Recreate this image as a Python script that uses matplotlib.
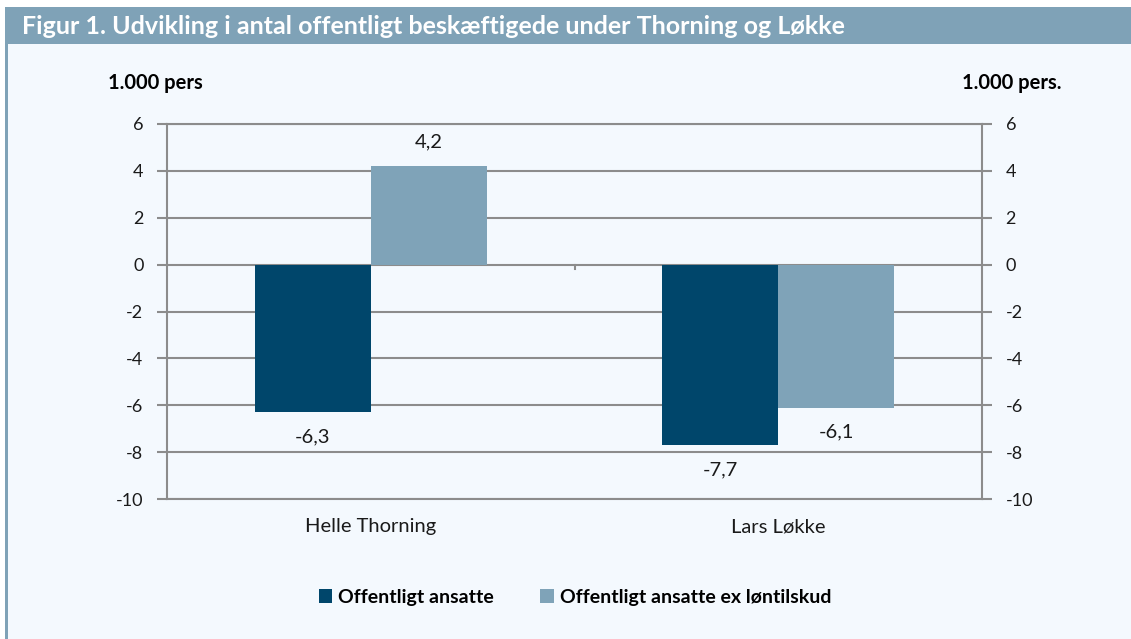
import matplotlib.pyplot as plt
import numpy as np
from matplotlib.patches import Rectangle

plt.rcParams['font.family'] = ['Lato', 'DejaVu Sans']

categories = ['Helle Thorning', 'Lars Løkke']
series_names = ['Offentligt ansatte', 'Offentligt ansatte ex løntilskud']
ansatte = [-6.3, -7.7]
ex_loentilskud = [4.2, -6.1]
yticks = [-10, -8, -6, -4, -2, 0, 2, 4, 6]

dark = '#00466b'
light = '#7fa3b8'
bg = '#f4f9fe'
grey = '#8c8c8c'

fig = plt.figure(figsize=(11.31, 6.39), dpi=100)
fig.patch.set_facecolor('white')
# page background + title band + left rule
fig.patches.append(Rectangle((5/1131, 0), 1, 1 - 44/639, transform=fig.transFigure,
                             facecolor=bg, edgecolor='none', zorder=-2))
fig.patches.append(Rectangle((5/1131, 1 - 44/639), 1, 37/639, transform=fig.transFigure,
                             facecolor='#7fa2b7', edgecolor='none', zorder=-1))
fig.patches.append(Rectangle((5/1131, 0), 3/1131, 1 - 44/639, transform=fig.transFigure,
                             facecolor='#7fa2b7', edgecolor='none', zorder=-1))
fig.text(22/1131, 1 - 27/639, 'Figur 1. Udvikling i antal offentligt beskæftigede under Thorning og Løkke',
         color='white', fontsize=18, fontweight='bold', va='center', ha='left')

ax = fig.add_axes([167/1131, 1 - 499/639, 815/1131, 375/639])
ax.set_facecolor(bg)
x = np.arange(len(categories))
w = 0.285
b1 = ax.bar(x - w/2, ansatte, w, color=dark, label=series_names[0], zorder=2)
b2 = ax.bar(x + w/2, ex_loentilskud, w, color=light, label=series_names[1], zorder=2)

for bars, vals in ((b1, ansatte), (b2, ex_loentilskud)):
    for r, v in zip(bars, vals):
        cx = r.get_x() + r.get_width() / 2
        off = 1.02 if v > 0 else -1.05
        ax.text(cx, v + off, f'{v:.1f}'.replace('.', ','), ha='center', va='center',
                fontsize=14.5, color='#1a1a1a')

ax.set_xlim(-0.5, 1.5)
ax.set_ylim(-10, 6)
ax.set_yticks(yticks)
ax.set_yticklabels([str(t) for t in yticks])
ax.set_xticks([])
ax.grid(axis='y', color=grey, lw=1.5, zorder=0)
ax.set_axisbelow(True)
ax.plot([0.5, 0.5], [0, -0.18], color=grey, lw=1.5, zorder=1)
for s in ax.spines.values():
    s.set_color(grey)
    s.set_linewidth(1.5)
ax.tick_params(axis='y', length=7, width=1.5, color=grey, labelsize=13, pad=10,
               labelcolor='#1a1a1a', left=True, right=True, labelleft=True, labelright=True)
for i, c in enumerate(categories):
    ax.text(i, -11.18, c, ha='center', va='center', fontsize=14.5, color='#1a1a1a')

fig.text(108/1131, 1 - 83/639, '1.000 pers', fontsize=14.5, fontweight='bold', va='center')
fig.text(1062/1131, 1 - 83/639, '1.000 pers.', fontsize=14.5, fontweight='bold', va='center', ha='right')

leg = fig.legend(handles=[b1, b2], loc='center', bbox_to_anchor=(575/1131, 1 - 597/639),
                 ncol=2, frameon=False, handlelength=0.7, handleheight=0.7,
                 handletextpad=0.3, columnspacing=2.4,
                 prop={'size': 14, 'weight': 'bold'})

fig.savefig('out.png', dpi=100, facecolor=fig.get_facecolor())
